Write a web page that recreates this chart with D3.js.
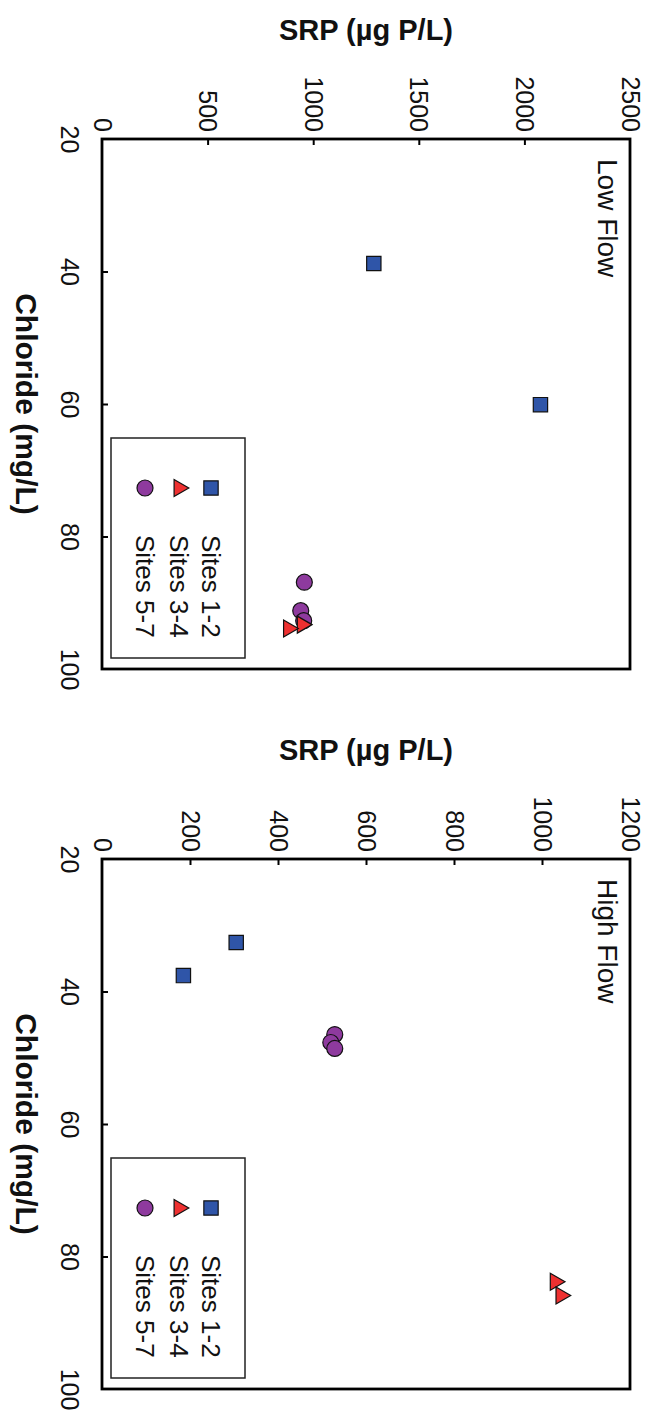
<!DOCTYPE html>
<html>
<head>
<meta charset="utf-8">
<script src="https://cdn.jsdelivr.net/npm/d3@7"></script>
<style>
  html, body { margin: 0; padding: 0; background: #fff; }
  svg { display: block; font-family: "Liberation Sans", Arial, Helvetica, sans-serif; }
</style>
</head>
<body>
<svg id="chart" width="654" height="1419"></svg>
<script>
// ---- data ----
const seriesNames = ["Sites 1-2", "Sites 3-4", "Sites 5-7"];
const chlorideTicks = [20, 40, 60, 80, 100];

const lowTitle = "Low Flow";
const lowSrpTicks = [0, 500, 1000, 1500, 2000, 2500];
const lowCl12 = [38.8, 60.1];
const lowSrp12 = [1287, 2076];
const lowCl34 = [93.3, 93.9];
const lowSrp34 = [948, 883];
const lowCl57 = [86.9, 91.2, 92.7];
const lowSrp57 = [958, 941, 955];

const highTitle = "High Flow";
const highSrpTicks = [0, 200, 400, 600, 800, 1000, 1200];
const highCl12 = [32.6, 37.6];
const highSrp12 = [305, 185];
const highCl34 = [83.8, 85.9];
const highSrp34 = [1030, 1043];
const highCl57 = [46.5, 47.7, 48.6];
const highSrp57 = [529, 520, 529];

const xTitle = "Chloride (mg/L)";
const yTitle = "SRP (\u00b5g P/L)";

// ---- styling ----
const colors = ["#2f55a8", "#ee3030", "#8e3a9e"];
const symbols = ["square", "triangle", "circle"];
const svg = d3.select("#chart");

function zip(cl, srp) { return cl.map((c, i) => ({ cl: c, srp: srp[i] })); }

function marker(sel, kind, color) {
  if (kind === "circle") {
    sel.append("circle").attr("r", 8).attr("fill", color).attr("stroke", "#111").attr("stroke-width", 1.2);
  } else if (kind === "square") {
    sel.append("path").attr("d", d3.symbol().type(d3.symbolSquare).size(205)())
      .attr("fill", color).attr("stroke", "#111").attr("stroke-width", 1.2);
  } else {
    sel.append("path").attr("d", d3.symbol().type(d3.symbolTriangle).size(125)())
      .attr("transform", "rotate(90)")
      .attr("fill", color).attr("stroke", "#111").attr("stroke-width", 1.2);
  }
}

function panel(cfg) {
  const { x0, x1, y0, y1 } = cfg;
  const g = svg.append("g");
  const sx = d3.scaleLinear().domain([0, cfg.srpMax]).range([x0, x1]);
  const sy = d3.scaleLinear().domain([20, 100]).range([y0, y1]);

  // SRP axis (top) – ticks pointing inward
  const axT = g.append("g").attr("transform", `translate(0,${y0})`)
    .call(d3.axisTop(sx).tickValues(cfg.srpTicks).tickFormat(d3.format("d"))
      .tickSizeInner(-6).tickSizeOuter(0).tickPadding(0));
  axT.select(".domain").remove();
  axT.selectAll(".tick line").attr("stroke", "#000").attr("stroke-width", 2)
    .filter(d => d === 0 || d === cfg.srpMax).remove();
  axT.selectAll(".tick text")
    .attr("x", 0).attr("y", 0).attr("dy", null)
    .attr("transform", "translate(0,-7) rotate(90)")
    .attr("text-anchor", "end").attr("dominant-baseline", "central")
    .attr("font-size", 25).attr("fill", "#111");

  // Chloride axis (left) – ticks pointing inward
  const axL = g.append("g").attr("transform", `translate(${x0},0)`)
    .call(d3.axisLeft(sy).tickValues(chlorideTicks).tickFormat(d3.format("d"))
      .tickSizeInner(-6).tickSizeOuter(0).tickPadding(0));
  axL.select(".domain").remove();
  axL.selectAll(".tick line").attr("stroke", "#000").attr("stroke-width", 2)
    .filter(d => d === 20 || d === 100).remove();
  axL.selectAll(".tick text")
    .attr("x", 0).attr("y", 0).attr("dy", null)
    .attr("transform", "translate(-32,0) rotate(90)")
    .attr("text-anchor", "middle").attr("dominant-baseline", "central")
    .attr("font-size", 25).attr("fill", "#111");

  // frame
  g.append("rect").attr("x", x0).attr("y", y0).attr("width", x1 - x0).attr("height", y1 - y0)
    .attr("fill", "none").attr("stroke", "#000").attr("stroke-width", 2.8);

  // panel label
  g.append("text").attr("transform", `translate(${x1 - 23},${y0 + 20}) rotate(90)`)
    .attr("text-anchor", "start").attr("dominant-baseline", "central")
    .attr("font-size", 28).attr("fill", "#111").text(cfg.title);

  // axis titles
  g.append("text").attr("x", (x0 + x1) / 2).attr("y", y0 - 109)
    .attr("text-anchor", "middle").attr("dominant-baseline", "central")
    .attr("font-size", 29).attr("font-weight", "bold").attr("fill", "#111").text(yTitle);
  g.append("text").attr("transform", `translate(26,${(y0 + y1) / 2}) rotate(90)`)
    .attr("text-anchor", "middle").attr("dominant-baseline", "central")
    .attr("font-size", 30).attr("font-weight", "bold").attr("fill", "#111").text(xTitle);

  // legend
  const lg = g.append("g");
  lg.append("rect").attr("x", x0 + 9).attr("y", y0 + 299).attr("width", 134).attr("height", 220)
    .attr("fill", "#fff").attr("stroke", "#222").attr("stroke-width", 1.5);
  const legX = [x0 + 109, x0 + 77, x0 + 43];
  seriesNames.forEach((name, i) => {
    const it = lg.append("g").attr("transform", `translate(${legX[i]},${y0 + 349})`);
    marker(it, symbols[i], colors[i]);
    lg.append("text").attr("transform", `translate(${legX[i]},${y0 + 396}) rotate(90)`)
      .attr("text-anchor", "start").attr("dominant-baseline", "central")
      .attr("font-size", 26).attr("fill", "#111").text(name);
  });

  // points: circles, then triangles, then squares
  const order = [2, 1, 0];
  order.forEach(i => {
    g.append("g").selectAll("g").data(cfg.series[i]).join("g")
      .attr("transform", d => `translate(${sx(d.srp)},${sy(d.cl)})`)
      .each(function () { marker(d3.select(this), symbols[i], colors[i]); });
  });
}

panel({
  x0: 102, x1: 630, y0: 139, y1: 669, srpMax: 2500, srpTicks: lowSrpTicks, title: lowTitle,
  series: [zip(lowCl12, lowSrp12), zip(lowCl34, lowSrp34), zip(lowCl57, lowSrp57)]
});
panel({
  x0: 102, x1: 630, y0: 859, y1: 1389, srpMax: 1200, srpTicks: highSrpTicks, title: highTitle,
  series: [zip(highCl12, highSrp12), zip(highCl34, highSrp34), zip(highCl57, highSrp57)]
});
</script>
</body>
</html>
